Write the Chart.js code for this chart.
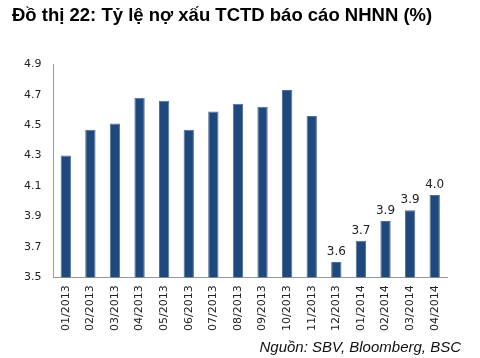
<!DOCTYPE html>
<html><head><meta charset="utf-8">
<script src="https://cdn.jsdelivr.net/npm/chart.js@4"></script>
<style>html,body{margin:0;padding:0;background:#fff}</style>
</head><body>
<canvas id="c" width="480" height="358"></canvas>
<script>
const categories = ["01/2013","02/2013","03/2013","04/2013","05/2013","06/2013","07/2013","08/2013","09/2013","10/2013","11/2013","12/2013","01/2014","02/2014","03/2014","04/2014"];
const npl = [4.30,4.47,4.51,4.68,4.66,4.47,4.59,4.64,4.62,4.73,4.56,3.60,3.74,3.87,3.94,4.04];
const labelledFrom = 11;
const yTicks = [3.5,3.7,3.9,4.1,4.3,4.5,4.7,4.9];
const titleText = 'Đồ thị 22: Tỷ lệ nợ xấu TCTD báo cáo NHNN (%)';
const sourceText = 'Nguồn: SBV, Bloomberg, BSC';

const labelPlugin = {
  id:'lbl',
  afterDatasetsDraw(chart){
    const ctx = chart.ctx;
    const meta = chart.getDatasetMeta(0);
    ctx.save();
    ctx.font = '12px "DejaVu Sans", sans-serif';
    ctx.fillStyle = '#222';
    ctx.textAlign = 'center';
    ctx.textBaseline = 'bottom';
    meta.data.forEach((bar,i)=>{
      if(i>=labelledFrom){
        ctx.fillText(npl[i].toFixed(1), bar.x, bar.y-4);
      }
    });
    ctx.restore();
  },
  afterDraw(chart){
    const ctx = chart.ctx;
    ctx.save();
    ctx.font = 'italic 15px "Liberation Sans", Arial, sans-serif';
    ctx.fillStyle = '#111';
    ctx.textAlign = 'right';
    ctx.textBaseline = 'middle';
    ctx.fillText(sourceText, 461, 348);
    ctx.restore();
  }
};

new Chart(document.getElementById('c'),{
  type:'bar',
  data:{labels:categories,datasets:[{data:npl,backgroundColor:'#1F497D',borderColor:'#4F6F9A',borderWidth:{top:1,left:1,right:1,bottom:0},barPercentage:0.42,categoryPercentage:1}]},
  options:{
    responsive:false,animation:false,
    layout:{padding:{left:12,right:33,top:0,bottom:19}},
    plugins:{
      legend:{display:false},tooltip:{enabled:false},
      title:{display:true,text:titleText,align:'start',color:'#000',
        font:{family:'"Liberation Sans", Arial, sans-serif',size:18.5,weight:'bold'},padding:{top:5,bottom:37}}
    },
    scales:{
      x:{grid:{display:false,drawTicks:false},border:{display:true,color:'#9a9a9a',width:1},
        ticks:{minRotation:90,maxRotation:90,padding:8,color:'#222',font:{family:'"DejaVu Sans", sans-serif',size:11}}},
      y:{min:3.5,max:4.9,afterBuildTicks(s){s.ticks=yTicks.map(v=>({value:v}));},
        grid:{display:false,drawTicks:false},border:{display:true,color:'#9a9a9a',width:1},
        ticks:{padding:12,color:'#222',callback:v=>v.toFixed(1),font:{family:'"DejaVu Sans", sans-serif',size:11}}}
    }
  },
  plugins:[labelPlugin]
});
</script>
</body></html>
